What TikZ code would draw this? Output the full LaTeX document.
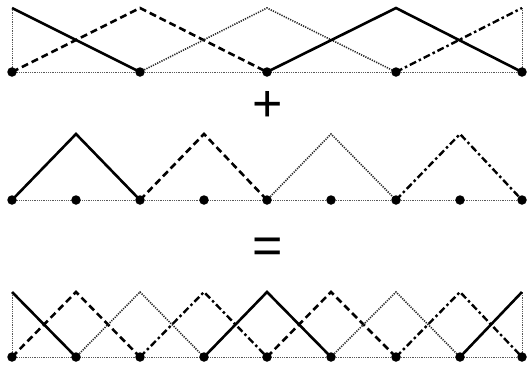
\documentclass[tikz,border=0pt]{standalone}
\usepackage{fontspec}
\setmainfont{Liberation Sans}
\begin{document}
\begin{tikzpicture}[x=1pt,y=-1pt,
  dot/.style={circle,fill=black,inner sep=0pt,minimum size=9.5pt},
  base/.style={line width=1pt,dash pattern=on 1pt off 0.8pt,black!65},
  edge/.style={line width=1pt,dash pattern=on 1pt off 0.8pt,black!65},
  fsolid/.style={line width=2.6pt,line join=miter},
  fdash/.style={line width=2.6pt,dash pattern=on 7pt off 4pt},
  fdot/.style={line width=1.6pt,dash pattern=on 1.2pt off 1.2pt,black!85},
  fdashdot/.style={line width=2.4pt,dash pattern=on 7pt off 3pt on 2.5pt off 3pt},
  sign/.style={font=\fontsize{52}{52}\selectfont}]
\useasboundingbox (0,0) rectangle (527,368);
% ---------- top row ----------
\foreach \n/\x in {0/12,1/140,2/267,3/396,4/522}{
  \coordinate (tb\n) at (\x,72);
  \coordinate (tp\n) at (\x,8);
}
\draw[base] (tb0) -- (tb4);
\draw[edge] (tb0) -- (tp0);
\draw[edge] (tb4) -- (tp4);
\draw[fsolid] (tp0) -- (tb1);
\draw[fdash] (tb0) -- (tp1) -- (tb2);
\draw[fdot] (tb1) -- (tp2) -- (tb3);
\draw[fsolid] (tb2) -- (tp3) -- (tb4);
\draw[fdashdot] (tb3) -- (tp4);
\foreach \n in {0,...,4}{\node[dot] (td\n) at (tb\n) {};}
% plus
\node[sign] (plus) at (267.5,106) {+};
% ---------- middle row ----------
\foreach \n/\x in {0/12,1/76,2/140,3/204,4/267,5/331,6/396,7/460,8/522}{
  \coordinate (mb\n) at (\x,200);
  \coordinate (mp\n) at (\x,134);
}
\draw[base] (mb0) -- (mb8);
\draw[fsolid] (mb0) -- (mp1) -- (mb2);
\draw[fdash] (mb2) -- (mp3) -- (mb4);
\draw[fdot] (mb4) -- (mp5) -- (mb6);
\draw[fdashdot] (mb6) -- (mp7) -- (mb8);
\foreach \n in {0,...,8}{\node[dot] (md\n) at (mb\n) {};}
% equals
\node[sign] (eq) at (267.5,251) {=};
% ---------- bottom row ----------
\foreach \n/\x in {0/12,1/76,2/140,3/204,4/267,5/331,6/396,7/460,8/522}{
  \coordinate (bb\n) at (\x,357);
  \coordinate (bp\n) at (\x,292);
}
\draw[base] (bb0) -- (bb8);
\draw[edge] (bb0) -- (bp0);
\draw[edge] (bb8) -- (bp8);
\draw[fsolid] (bp0) -- (bb1);
\draw[fdash] (bb0) -- (bp1) -- (bb2);
\draw[fdot] (bb1) -- (bp2) -- (bb3);
\draw[fdashdot] (bb2) -- (bp3) -- (bb4);
\draw[fsolid] (bb3) -- (bp4) -- (bb5);
\draw[fdash] (bb4) -- (bp5) -- (bb6);
\draw[fdot] (bb5) -- (bp6) -- (bb7);
\draw[fdashdot] (bb6) -- (bp7) -- (bb8);
\draw[fsolid] (bb7) -- (bp8);
\foreach \n in {0,...,8}{\node[dot] (bd\n) at (bb\n) {};}
\end{tikzpicture}
\end{document}
